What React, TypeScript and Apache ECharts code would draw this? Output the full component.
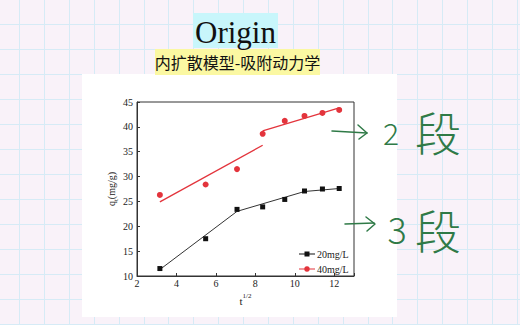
import React, { useEffect, useRef } from "react";
import * as echarts from "echarts";

// sqrt(t) values (t = 10, 30, ... 150 min)
const sqrtT = [3.16, 5.48, 7.07, 8.37, 9.49, 10.49, 11.4, 12.25];
const q20 = [11.5, 17.5, 23.4, 23.9, 25.4, 27.1, 27.5, 27.6];
const q40 = [26.3, 28.4, 31.5, 38.6, 41.2, 42.2, 42.8, 43.4];

// piecewise linear fits (endpoints)
const fit20X = [3.16, 7.07, 10.49, 12.25];
const fit20Y = [11.3, 23.0, 27.0, 27.6];
const fit40aX = [3.16, 8.37];
const fit40aY = [24.9, 36.3];
const fit40bX = [8.37, 12.25];
const fit40bY = [39.2, 43.8];

const xTicks = { min: 2, max: 13, interval: 2 };
const yTicks = { min: 10, max: 45, interval: 5 };

const seriesNames = ["20mg/L", "40mg/L"];
const titleMain = "Origin";
const titleSub = "内扩散模型-吸附动力学";
const note1 = ["2", "段"];
const note2 = ["3", "段"];

const zip = (xs: number[], ys: number[]) => xs.map((x, i) => [x, ys[i]]);

const BLACK = "#111111";
const RED = "#e3343c";
const GREEN = "#2f7a47";
const SERIF = "Liberation Serif";
const CJK = "Noto Sans CJK SC";

// legend icons: line with marker in the middle (drawn in a 16x7 box)
const ICON_SQUARE = "path://M0,3.1H16V3.9H0Z M5.5,1H10.5V6H5.5Z";
const ICON_CIRCLE =
  "path://M0,3.1H16V3.9H0Z M8,0.7A2.8,2.8 0 1 1 7.99,0.7Z";

export default function App() {
  const ref = useRef<HTMLDivElement>(null);
  useEffect(() => {
    if (!ref.current) return;
    const chart = echarts.init(ref.current, undefined, { renderer: "svg" });

    const bg: any[] = [];
    for (let x = 19; x < 520; x += 24.9) {
      bg.push({
        type: "line", z: -20, silent: true,
        shape: { x1: Math.round(x) + 0.5, y1: 0, x2: Math.round(x) + 0.5, y2: 325 },
        style: { stroke: "#d6ebf6", lineWidth: 1 },
      });
    }
    for (let y = 24; y < 325; y += 25) {
      bg.push({
        type: "line", z: -20, silent: true,
        shape: { x1: 0, y1: y + 0.5, x2: 520, y2: y + 0.5 },
        style: { stroke: "#d6ebf6", lineWidth: 1 },
      });
    }

    const stroke = { stroke: GREEN, lineWidth: 1.5, fill: null, lineCap: "round", lineJoin: "round" };
    const txt = (x: number, y: number, text: string, size: number, family: string, fill: string, weight: any = "normal") => ({
      type: "text", z: 10, x, y,
      style: { text, fontSize: size, fontFamily: family, fontWeight: weight, fill, align: "center", verticalAlign: "middle" },
    });

    const option: any = {
      animation: false,
      backgroundColor: "#f9f2f9",
      graphic: [
        ...bg,
        { type: "rect", z: -10, silent: true, shape: { x: 82, y: 74, width: 315, height: 243 }, style: { fill: "#ffffff" } },
        { type: "rect", z: -10, shape: { x: 193, y: 13, width: 85, height: 35 }, style: { fill: "#c8f6fb" } },
        txt(235.5, 32, titleMain, 31, SERIF, "#111"),
        { type: "rect", z: -10, shape: { x: 155, y: 49, width: 165, height: 26 }, style: { fill: "#fbf8a2" } },
        txt(237.5, 62, titleSub, 16, CJK, "#111"),
        // handwritten note 1
        { type: "polyline", z: 10, shape: { points: [[332, 131], [367, 133]] }, style: stroke },
        { type: "polyline", z: 10, shape: { points: [[358, 125], [367, 133], [359, 139]] }, style: stroke },
        txt(391, 132, note1[0], 30, CJK, GREEN, 300),
        txt(438, 131, note1[1], 46, CJK, GREEN, 300),
        // handwritten note 2
        { type: "polyline", z: 10, shape: { points: [[345, 224], [374, 223]] }, style: stroke },
        { type: "polyline", z: 10, shape: { points: [[366, 217], [375, 224], [367, 231]] }, style: stroke },
        txt(397, 228, note2[0], 36, CJK, GREEN, 300),
        txt(438, 229, note2[1], 46, CJK, GREEN, 300),
      ],
      grid: {
        left: 137, top: 102, width: 217, height: 174,
        show: true, borderColor: "#333", borderWidth: 1, backgroundColor: "transparent",
        containLabel: false, outerBoundsMode: "none",
      },
      legend: {
        orient: "vertical", left: 294, top: 244,
        itemWidth: 16, itemHeight: 7, itemGap: 5,
        data: [
          { name: seriesNames[0], icon: ICON_SQUARE },
          { name: seriesNames[1], icon: ICON_CIRCLE },
        ],
        textStyle: { fontFamily: SERIF, fontSize: 10, color: "#222", padding: [0, 0, 0, -3] },
        selectedMode: false,
      },
      xAxis: {
        type: "value",
        min: xTicks.min, max: xTicks.max, interval: xTicks.interval,
        splitLine: { show: false },
        axisLine: { lineStyle: { color: "#333", width: 1 } },
        axisTick: { inside: true, length: 3, lineStyle: { color: "#333" } },
        axisLabel: {
          margin: 2, fontFamily: SERIF, fontSize: 10, color: "#222",
          formatter: (v: number) => (v === xTicks.max ? "" : String(v)),
        },
        name: "{t|t}{s|1/2}",
        nameLocation: "middle",
        nameGap: 15,
        nameTextStyle: {
          rich: {
            t: { fontFamily: SERIF, fontSize: 11, color: "#222", lineHeight: 14, verticalAlign: "bottom" },
            s: { fontFamily: SERIF, fontSize: 7, color: "#222", lineHeight: 14, verticalAlign: "top" },
          },
        },
      },
      yAxis: {
        type: "value",
        min: yTicks.min, max: yTicks.max, interval: yTicks.interval,
        splitLine: { show: false },
        axisLine: { lineStyle: { color: "#333", width: 1 } },
        axisTick: { inside: true, length: 3, lineStyle: { color: "#333" } },
        axisLabel: { margin: 4, fontFamily: SERIF, fontSize: 10, color: "#222" },
        name: "{q|q}{s|t}{q|(mg/g)}",
        nameLocation: "middle",
        nameGap: 17,
        nameTextStyle: {
          rich: {
            q: { fontFamily: SERIF, fontSize: 10, color: "#222", lineHeight: 13, verticalAlign: "top" },
            s: { fontFamily: SERIF, fontSize: 7, color: "#222", lineHeight: 13, verticalAlign: "bottom" },
          },
        },
      },
      series: [
        {
          name: seriesNames[0], type: "scatter", data: zip(sqrtT, q20),
          symbol: "rect", symbolSize: 5,
          itemStyle: { color: BLACK, opacity: 1 }, z: 5,
        },
        {
          name: seriesNames[1], type: "scatter", data: zip(sqrtT, q40),
          symbol: "circle", symbolSize: 6,
          itemStyle: { color: RED, opacity: 1 }, z: 5,
        },
        {
          type: "line", data: zip(fit20X, fit20Y), symbol: "none",
          lineStyle: { color: "#333", width: 1 }, silent: true,
        },
        {
          type: "line", data: zip(fit40aX, fit40aY), symbol: "none",
          lineStyle: { color: RED, width: 1.3 }, silent: true,
        },
        {
          type: "line", data: zip(fit40bX, fit40bY), symbol: "none",
          lineStyle: { color: RED, width: 1.3 }, silent: true,
        },
      ],
    };
    chart.setOption(option);
    return () => chart.dispose();
  }, []);
  return (
    <div
      ref={ref}
      style={{ position: "fixed", left: 0, top: 0, width: 520, height: 325 }}
    />
  );
}
